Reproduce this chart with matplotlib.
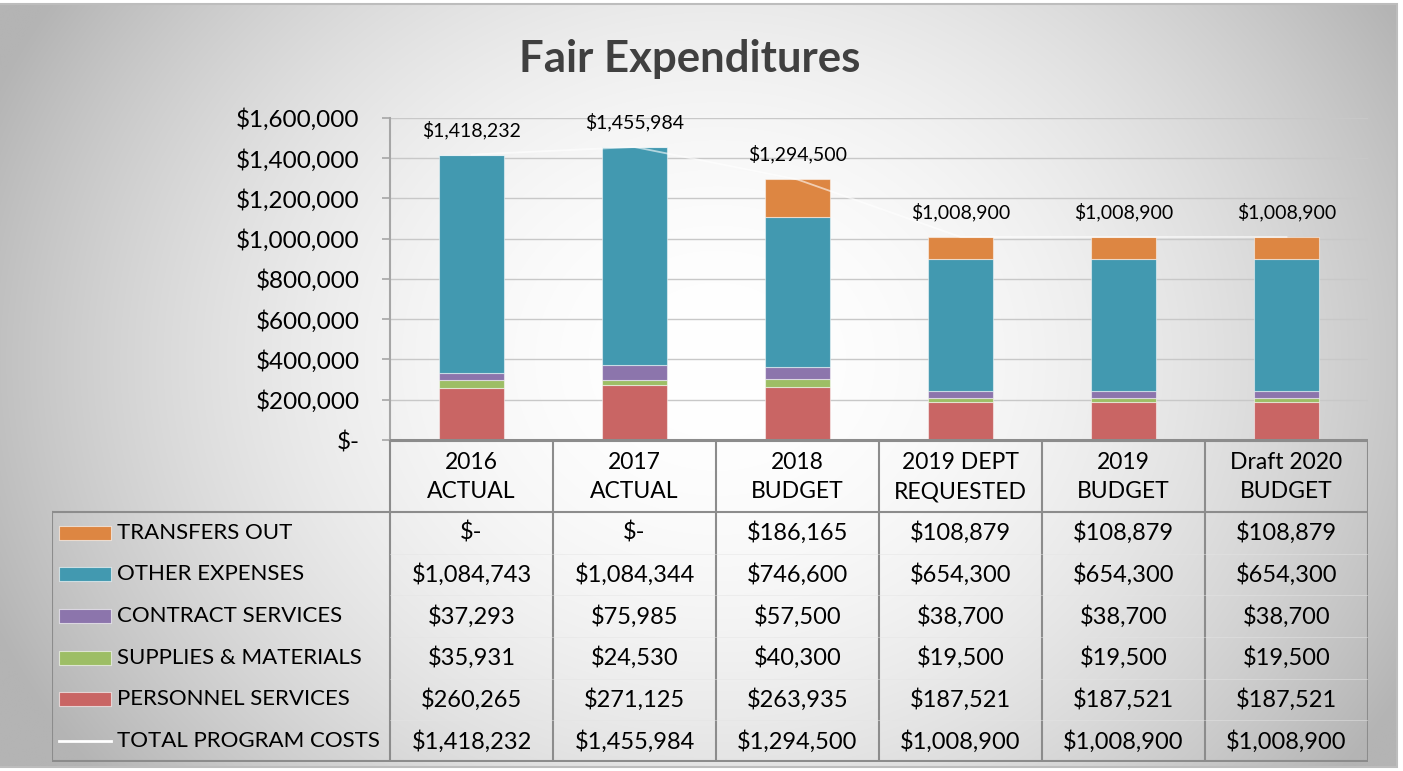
import numpy as np
import matplotlib.pyplot as plt
from matplotlib.patches import Rectangle

plt.rcParams['font.family'] = ['Lato', 'DejaVu Sans']

# data
categories = ['2016\nACTUAL', '2017\nACTUAL', '2018\nBUDGET',
              '2019 DEPT\nREQUESTED', '2019\nBUDGET', 'Draft 2020\nBUDGET']
personnel = [260265, 271125, 263935, 187521, 187521, 187521]
supplies = [35931, 24530, 40300, 19500, 19500, 19500]
contract = [37293, 75985, 57500, 38700, 38700, 38700]
other = [1084743, 1084344, 746600, 654300, 654300, 654300]
transfers = [0, 0, 186165, 108879, 108879, 108879]
total = [1418232, 1455984, 1294500, 1008900, 1008900, 1008900]

series_names = ['PERSONNEL SERVICES', 'SUPPLIES & MATERIALS', 'CONTRACT SERVICES',
                'OTHER EXPENSES', 'TRANSFERS OUT']
series_vals = [personnel, supplies, contract, other, transfers]
colors = ['#c96564', '#9dbe65', '#8c75ac', '#4299b0', '#dd8642']

W, H = 1403, 771


def money(v):
    return '$-' if v == 0 else '${:,.0f}'.format(v)


fig = plt.figure(figsize=(W / 100, H / 100), dpi=100)
fig.patch.set_facecolor('white')

# radial gradient background
bg = fig.add_axes([0, 0, 1, 1])
bg.set_xlim(0, W)
bg.set_ylim(H, 0)
bg.axis('off')
yy, xx = np.mgrid[0:H, 0:W]
d2 = ((xx - 720) / 720.0) ** 2 + ((yy - 360) / 620.0) ** 2
shade = np.clip(255 - 62 * d2, 180, 255) / 255.0
img = np.dstack([shade, shade, shade])
bg.imshow(img, extent=(0, 1397, 767, 4), aspect='auto', zorder=0)
bg.add_patch(Rectangle((-5, 4), 1402, 763, fill=False, ec='#bdbdbd', lw=1.5, zorder=1))
bg.text(690, 59, 'Fair Expenditures', ha='center', va='center',
        fontsize=31.5, fontweight='bold', color='#404040')

# main chart
ax = fig.add_axes([390 / W, 1 - 440 / H, 978 / W, 322 / H])
ax.set_facecolor('none')
x = np.arange(len(categories))
bottom = np.zeros(len(categories))
for vals, col in zip(series_vals, colors):
    ax.bar(x, vals, 0.4, bottom=bottom, color=col,
           edgecolor=(1, 1, 1, 0.5), lw=0.8, zorder=3)
    bottom += np.array(vals)
ax.plot(x, total, color='white', lw=1.3, alpha=0.6, zorder=4)
for xi, t in zip(x, total):
    ax.annotate(money(t), (xi, t), xytext=(0, 18), textcoords='offset points',
                ha='center', va='center', fontsize=14, color='black', zorder=5)

ax.set_xlim(-0.5, 5.5)
ax.set_ylim(0, 1600000)
yt = np.arange(0, 1600001, 200000)
ax.set_yticks(yt)
ax.set_yticklabels([money(v) for v in yt], fontsize=17.5)
ax.set_xticks([])
ax.tick_params(axis='y', length=6, width=1.2, color='#a6a6a6', pad=16)
ax.grid(axis='y', color='#c8c8c8', lw=1, zorder=1)
for s in ['top', 'right', 'bottom']:
    ax.spines[s].set_visible(False)
ax.spines['left'].set_color('#a6a6a6')
ax.spines['left'].set_linewidth(1.5)
ax.axhline(0, color='#8c8c8c', lw=2.2, zorder=6)

# data table
tax = fig.add_axes([52 / W, 1 - 762 / H, 1316 / W, 322 / H])
tax.set_facecolor('none')
tax.set_xlim(-0.5 - 338 / 163, 5.5)
tax.set_ylim(762, 440)
tax.axis('off')
lc = '#8c8c8c'
xl = -0.5 - 338 / 163
row_top = 512
row_h = (762 - 512) / 6
# grid lines
tax.plot([-0.5, 5.5], [441, 441], color=lc, lw=1.5)
tax.plot([-0.5, 5.5], [row_top, row_top], color=lc, lw=1.5)
tax.plot([xl, 5.5], [761, 761], color=lc, lw=1.5)
tax.plot([xl, -0.5], [row_top, row_top], color=lc, lw=1.5)
tax.plot([xl + 0.003, xl + 0.003], [row_top, 761], color=lc, lw=1.5)
for b in np.arange(-0.5, 6.0, 1.0):
    tax.plot([b, b], [441, 761], color=lc, lw=1.5)
for i in range(1, 6):
    yl = row_top + i * row_h
    tax.plot([-0.5, 5.5], [yl, yl], color='#e4e4e4', lw=0.5, alpha=0.7)

for xi, cat in zip(x, categories):
    tax.text(xi, 477, cat, ha='center', va='center', fontsize=16.5,
             linespacing=1.5, color='black')

row_names = ['TRANSFERS OUT', 'OTHER EXPENSES', 'CONTRACT SERVICES',
             'SUPPLIES & MATERIALS', 'PERSONNEL SERVICES', 'TOTAL PROGRAM COSTS']
row_vals = [transfers, other, contract, supplies, personnel, total]
row_cols = [colors[4], colors[3], colors[2], colors[1], colors[0], None]
px = 163.0
for i, (name, vals, col) in enumerate(zip(row_names, row_vals, row_cols)):
    yc = row_top + (i + 0.5) * row_h
    sx = xl + 7 / px
    if col is not None:
        tax.add_patch(Rectangle((sx, yc - 7), 52 / px, 14, fc=col,
                                ec=(1, 1, 1, 0.6), lw=0.8))
    else:
        tax.plot([sx, sx + 52 / px], [yc, yc], color='white', lw=2)
    tax.text(xl + 65 / px, yc, name, ha='left', va='center', fontsize=16, color='black')
    for xi, v in zip(x, vals):
        tax.text(xi, yc, money(v), ha='center', va='center', fontsize=17, color='black')

fig.savefig('out.png', dpi=100)
